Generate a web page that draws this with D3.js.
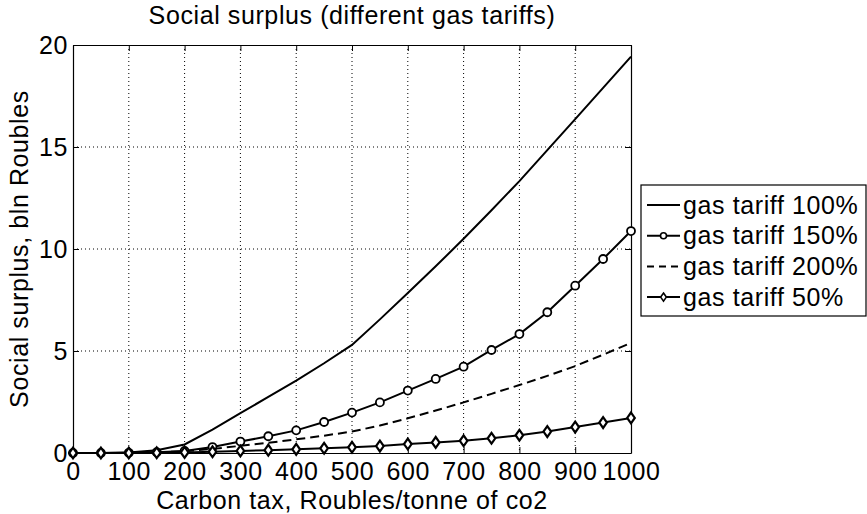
<!DOCTYPE html>
<html>
<head>
<meta charset="utf-8">
<script src="https://cdn.jsdelivr.net/npm/d3@7"></script>
<style>
  body { margin: 0; background: #fff; }
  svg { display: block; font-family: "Liberation Sans", Arial, sans-serif; }
  svg text { letter-spacing: 0.6px; }
</style>
</head>
<body>
<svg id="chart" width="867" height="514"></svg>
<script>
// carbon tax, Roubles/tonne of co2
var taxes = [0, 50, 100, 150, 200, 250, 300, 350, 400, 450, 500,
             550, 600, 650, 700, 750, 800, 850, 900, 950, 1000];

// social surplus, bln Roubles
var tariff100 = [0, 0, 0.03, 0.13, 0.42, 1.15, 1.95, 2.75, 3.55, 4.4, 5.3,
                 6.55, 7.84, 9.15, 10.5, 11.9, 13.33, 14.85, 16.37, 17.9, 19.43];
var tariff150 = [0, 0, 0.01, 0.04, 0.1, 0.29, 0.56, 0.82, 1.11, 1.52, 1.98,
                 2.48, 3.06, 3.63, 4.23, 5.05, 5.83, 6.9, 8.2, 9.51, 10.88];
var tariff200 = [0, 0, 0.01, 0.03, 0.08, 0.2, 0.35, 0.5, 0.67, 0.85, 1.05,
                 1.35, 1.7, 2.08, 2.48, 2.9, 3.33, 3.78, 4.26, 4.82, 5.4];
var tariff50 = [0, 0, 0, 0.01, 0.03, 0.06, 0.1, 0.14, 0.18, 0.23, 0.28,
                0.34, 0.44, 0.52, 0.6, 0.72, 0.87, 1.05, 1.27, 1.49, 1.72];

var xTicks = [0, 100, 200, 300, 400, 500, 600, 700, 800, 900, 1000];
var yTicks = [0, 5, 10, 15, 20];

var series = [
  { name: "gas tariff 100%", values: tariff100, dash: null, marker: null },
  { name: "gas tariff 150%", values: tariff150, dash: null, marker: "circle" },
  { name: "gas tariff 200%", values: tariff200, dash: "9,5", marker: null },
  { name: "gas tariff 50%", values: tariff50, dash: null, marker: "diamond" }
];

var svg = d3.select("#chart"),
    margin = { top: 45, left: 73 },
    width = 558,
    height = 408,
    fontSize = 25;

var x = d3.scaleLinear().domain([0, 1000]).range([0, width]);
var y = d3.scaleLinear().domain([0, 20]).range([height, 0]);

var g = svg.append("g")
  .attr("transform", "translate(" + margin.left + "," + margin.top + ")");

// dotted grid
g.append("g").selectAll("line")
  .data(xTicks.slice(1, -1))
  .enter().append("line")
  .attr("x1", function(d) { return x(d); })
  .attr("x2", function(d) { return x(d); })
  .attr("y1", 0).attr("y2", height)
  .attr("stroke", "#000").attr("stroke-width", 1)
  .attr("stroke-dasharray", "1,3");

g.append("g").selectAll("line")
  .data(yTicks.slice(1, -1))
  .enter().append("line")
  .attr("y1", function(d) { return y(d); })
  .attr("y2", function(d) { return y(d); })
  .attr("x1", 0).attr("x2", width)
  .attr("stroke", "#000").attr("stroke-width", 1)
  .attr("stroke-dasharray", "1,3");

// axes with inward ticks, matlab style
var xAxis = g.append("g")
  .attr("transform", "translate(0," + height + ")")
  .call(d3.axisBottom(x).tickValues(xTicks).tickFormat(d3.format("d"))
    .tickSizeInner(-6).tickSizeOuter(0).tickPadding(18));
var xTop = g.append("g")
  .call(d3.axisTop(x).tickValues(xTicks).tickSizeInner(-6).tickSizeOuter(0).tickFormat(""));
var yAxis = g.append("g")
  .call(d3.axisLeft(y).tickValues(yTicks).tickSizeInner(-6).tickSizeOuter(0).tickPadding(5));
var yRight = g.append("g")
  .attr("transform", "translate(" + width + ",0)")
  .call(d3.axisRight(y).tickValues(yTicks).tickSizeInner(-6).tickSizeOuter(0).tickFormat(""));

[xAxis, xTop, yAxis, yRight].forEach(function(a) {
  a.select(".domain").attr("stroke", "#000").attr("stroke-width", 1.2);
  a.selectAll(".tick line").attr("stroke", "#000");
  a.selectAll("text")
    .attr("fill", "#000")
    .style("font-family", "'Liberation Sans', Arial, sans-serif")
    .style("font-size", fontSize + "px");
});
xAxis.selectAll("text").attr("dy", "0.35em");

// lines
var line = d3.line()
  .x(function(d, i) { return x(taxes[i]); })
  .y(function(d) { return y(d); });

function drawMarker(sel, type, r, sw) {
  if (type === "circle") {
    sel.append("circle").attr("r", r)
      .attr("fill", "#fff").attr("stroke", "#000").attr("stroke-width", sw);
  } else if (type === "diamond") {
    sel.append("path")
      .attr("d", "M0," + (-r * 1.35) + "L" + (r * 0.95) + ",0L0," + (r * 1.35) + "L" + (-r * 0.95) + ",0Z")
      .attr("fill", "#fff").attr("stroke", "#000").attr("stroke-width", sw);
  }
}

series.forEach(function(s) {
  g.append("path")
    .datum(s.values)
    .attr("fill", "none")
    .attr("stroke", "#000")
    .attr("stroke-width", 2)
    .attr("stroke-dasharray", s.dash)
    .attr("d", line);

  if (s.marker) {
    g.append("g").selectAll("g")
      .data(s.values)
      .enter().append("g")
      .attr("transform", function(d, i) { return "translate(" + x(taxes[i]) + "," + y(d) + ")"; })
      .each(function() { drawMarker(d3.select(this), s.marker, 4, s.marker === "diamond" ? 2.2 : 1.8); });
  }
});

// titles
svg.append("text")
  .attr("x", margin.left + width / 2).attr("y", 24)
  .attr("text-anchor", "middle")
  .style("font-size", fontSize + "px")
  .text("Social surplus (different gas tariffs)");

svg.append("text")
  .attr("x", margin.left + width / 2).attr("y", 509)
  .attr("text-anchor", "middle")
  .style("font-size", fontSize + "px")
  .text("Carbon tax, Roubles/tonne of co2");

svg.append("text")
  .attr("transform", "translate(28," + (margin.top + height / 2) + ") rotate(-90)")
  .attr("text-anchor", "middle")
  .style("font-size", fontSize + "px")
  .text("Social surplus, bln Roubles");

// legend
var legend = svg.append("g").attr("transform", "translate(641,185)");
legend.append("rect")
  .attr("width", 225).attr("height", 131)
  .attr("fill", "#fff").attr("stroke", "#000").attr("stroke-width", 1.2);

series.forEach(function(s, i) {
  var row = legend.append("g").attr("transform", "translate(0," + (20 + i * 30.7) + ")");
  row.append("line")
    .attr("x1", 6).attr("x2", 39)
    .attr("stroke", "#000").attr("stroke-width", 2)
    .attr("stroke-dasharray", s.dash ? "7,5" : null);
  if (s.marker) {
    var m = row.append("g").attr("transform", "translate(22.5,0)");
    drawMarker(m, s.marker, 3, 1.6);
  }
  row.append("text")
    .attr("x", 42).attr("dy", "0.35em")
    .style("font-size", fontSize + "px")
    .text(s.name);
});
</script>
</body>
</html>
